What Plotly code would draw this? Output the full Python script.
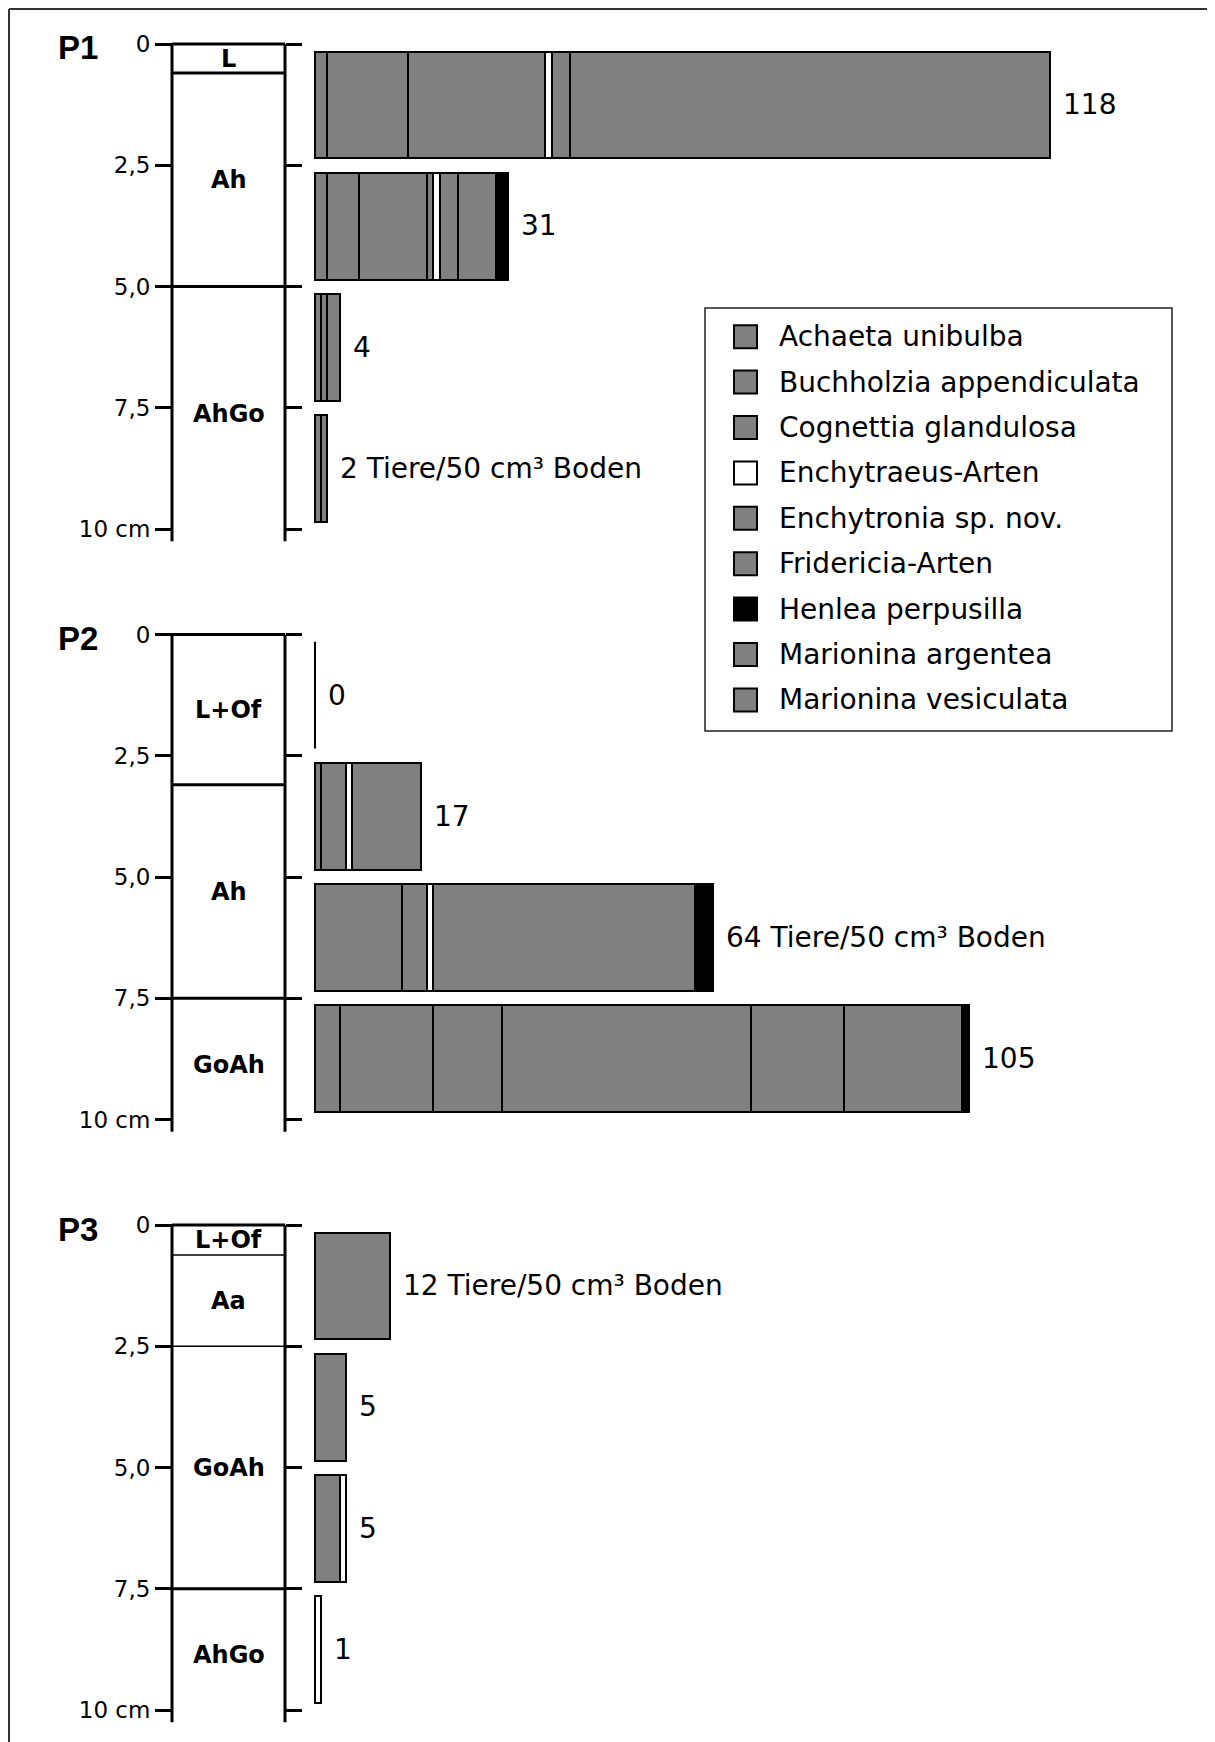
import plotly.graph_objects as go

# ---------------- data ----------------
species = ["Achaeta unibulba", "Buchholzia appendiculata", "Cognettia glandulosa",
           "Enchytraeus-Arten", "Enchytronia sp. nov.", "Fridericia-Arten",
           "Henlea perpusilla", "Marionina argentea", "Marionina vesiculata"]
species_colors = ["#808080", "#808080", "#808080", "#ffffff", "#808080",
                  "#808080", "#000000", "#808080", "#808080"]
# order in which the segments are stacked inside a bar (left to right)
stack_order = ["Achaeta unibulba", "Buchholzia appendiculata", "Cognettia glandulosa",
               "Enchytronia sp. nov.", "Enchytraeus-Arten", "Fridericia-Arten",
               "Marionina argentea", "Marionina vesiculata", "Henlea perpusilla"]

profiles = ["P1", "P2", "P3"]
layer_depth = [1.25, 3.75, 6.25, 8.75]          # cm, centre of each 2.5 cm sample

# animals per 50 cm3 soil, per species, for the 4 layers (0-2.5, 2.5-5, 5-7.5, 7.5-10 cm)
p1_counts = {
    "Achaeta unibulba":         [2, 2, 1, 1],
    "Buchholzia appendiculata": [13, 5, 1, 1],
    "Cognettia glandulosa":     [22, 11, 2, 0],
    "Enchytronia sp. nov.":     [0, 1, 0, 0],
    "Enchytraeus-Arten":        [1, 1, 0, 0],
    "Fridericia-Arten":         [3, 3, 0, 0],
    "Marionina argentea":       [77, 6, 0, 0],
    "Marionina vesiculata":     [0, 0, 0, 0],
    "Henlea perpusilla":        [0, 2, 0, 0],
}
p2_counts = {
    "Achaeta unibulba":         [0, 1, 14, 4],
    "Buchholzia appendiculata": [0, 4, 4, 15],
    "Cognettia glandulosa":     [0, 0, 0, 11],
    "Enchytronia sp. nov.":     [0, 0, 0, 40],
    "Enchytraeus-Arten":        [0, 1, 1, 0],
    "Fridericia-Arten":         [0, 11, 42, 15],
    "Marionina argentea":       [0, 0, 0, 19],
    "Marionina vesiculata":     [0, 0, 0, 0],
    "Henlea perpusilla":        [0, 0, 3, 1],
}
p3_counts = {
    "Achaeta unibulba":         [0, 0, 0, 0],
    "Buchholzia appendiculata": [0, 0, 0, 0],
    "Cognettia glandulosa":     [12, 5, 4, 0],
    "Enchytronia sp. nov.":     [0, 0, 0, 0],
    "Enchytraeus-Arten":        [0, 0, 1, 1],
    "Fridericia-Arten":         [0, 0, 0, 0],
    "Marionina argentea":       [0, 0, 0, 0],
    "Marionina vesiculata":     [0, 0, 0, 0],
    "Henlea perpusilla":        [0, 0, 0, 0],
}
counts = [p1_counts, p2_counts, p3_counts]
unit_layer = [3, 2, 0]          # layer whose total carries the unit text
unit_text = " Tiere/50 cm³ Boden"

# soil horizons
horizon_names = [["L", "Ah", "AhGo"],
                 ["L+Of", "Ah", "GoAh"],
                 ["L+Of", "Aa", "GoAh", "AhGo"]]
horizon_bounds = [[0, 0.6, 5.0, 10.25],
                  [0, 3.1, 7.5, 10.25],
                  [0, 0.62, 2.5, 7.5, 10.25]]
boundary_width = [[3, 3], [3, 3], [1.5, 1.5, 3]]

tick_vals = [0, 2.5, 5, 7.5, 10]
tick_text = ["0", "2,5", "5,0", "7,5", "10 cm"]

# ---------------- geometry (page pixels) ----------------
OFF = 8                      # default body margin of the page
PAGE_W, PAGE_H = 1215, 1742
W, H = PAGE_W - OFF, PAGE_H - OFF
X0_PX = 315.0        # page pixel of 0 animals
PPA = 6.225          # pixels per animal
Z_PX = [44.0, 634.5, 1225.0]   # page pixel of depth 0 for each profile
PPC = 48.5           # pixels per cm
Y_LO, Y_HI = -0.4, 10.6
BAR_W = 2.2
COL_L, COL_R = 172.0, 285.0


def px2x(px):
    return (px - X0_PX) / PPA


def pxx(px):      # page x pixel -> paper fraction
    return (px - OFF) / W


def pxy(py):      # page y pixel -> paper fraction
    return 1 - (py - OFF) / H


x_range = [px2x(OFF), px2x(PAGE_W)]

fig = go.Figure()
shapes = []
annotations = []
layout_axes = {}

for i, prof in enumerate(profiles):
    n = i + 1
    xa = "x" if n == 1 else f"x{n}"
    ya = "y" if n == 1 else f"y{n}"
    ya_r = f"y{n + 3}"
    cnt = counts[i]

    for sp in stack_order:
        col = species_colors[species.index(sp)]
        vals = [v if v > 0 else None for v in cnt[sp]]
        fig.add_trace(go.Bar(
            orientation="h", y=layer_depth, x=vals, width=BAR_W,
            marker=dict(color=col, line=dict(color="#000000", width=2)),
            xaxis=xa, yaxis=ya, showlegend=False, name=sp, hoverinfo="x+name"))

    totals = [sum(cnt[sp][k] for sp in species) for k in range(len(layer_depth))]
    for k, (d, t) in enumerate(zip(layer_depth, totals)):
        if t == 0:
            fig.add_trace(go.Scatter(
                x=[0, 0], y=[d - BAR_W / 2, d + BAR_W / 2], mode="lines",
                line=dict(color="#000000", width=2), xaxis=xa, yaxis=ya,
                showlegend=False, hoverinfo="skip"))
        txt = f"{t}{unit_text}" if k == unit_layer[i] else f"{t}"
        annotations.append(dict(
            x=t, y=d, xref=xa, yref=ya, text=txt, showarrow=False,
            xanchor="left", yanchor="middle", xshift=11,
            font=dict(family="DejaVu Sans", size=28, color="#000000")))

    # dummy trace so that the right tick axis is drawn
    fig.add_trace(go.Scatter(x=[0], y=[0], mode="markers", marker=dict(opacity=0),
                             xaxis=xa, yaxis=ya_r, showlegend=False, hoverinfo="skip"))

    z = Z_PX[i]
    top_px = z + Y_LO * PPC
    bot_px = z + Y_HI * PPC
    dom = [pxy(bot_px), pxy(top_px)]

    xkey = "xaxis" if n == 1 else f"xaxis{n}"
    ykey = "yaxis" if n == 1 else f"yaxis{n}"
    layout_axes[xkey] = dict(domain=[0, 1], range=x_range, visible=False,
                             anchor=ya, fixedrange=True)
    layout_axes[ykey] = dict(
        domain=dom, range=[Y_HI, Y_LO], anchor="free", position=pxx(COL_L),
        side="left", showgrid=False, zeroline=False, showline=False,
        ticks="outside", ticklen=17, tickwidth=3, tickcolor="#000000",
        tickvals=tick_vals, ticktext=tick_text,
        tickfont=dict(family="DejaVu Sans", size=23, color="#000000"))
    layout_axes[f"yaxis{n + 3}"] = dict(
        overlaying=ya, range=[Y_HI, Y_LO], anchor="free", position=pxx(COL_R),
        side="right", showgrid=False, zeroline=False, showline=False,
        ticks="outside", ticklen=16, tickwidth=3, tickcolor="#000000",
        tickvals=tick_vals, showticklabels=False)

    # soil column
    bounds = horizon_bounds[i]
    xl, xr = px2x(COL_L), px2x(COL_R)
    for xx in (xl, xr):
        shapes.append(dict(type="line", xref=xa, yref=ya, x0=xx, x1=xx,
                           y0=bounds[0], y1=bounds[-1],
                           line=dict(color="#000000", width=3)))
    shapes.append(dict(type="line", xref=xa, yref=ya, x0=xl, x1=xr,
                       y0=bounds[0], y1=bounds[0], line=dict(color="#000000", width=3)))
    for b, lw in zip(bounds[1:-1], boundary_width[i]):
        shapes.append(dict(type="line", xref=xa, yref=ya, x0=xl, x1=xr, y0=b, y1=b,
                           line=dict(color="#000000", width=lw)))
    for name, b0, b1 in zip(horizon_names[i], bounds[:-1], bounds[1:]):
        annotations.append(dict(
            x=(xl + xr) / 2, y=(b0 + b1) / 2, xref=xa, yref=ya, text=name,
            showarrow=False, xanchor="center", yanchor="middle",
            font=dict(family="DejaVu Sans", size=24, color="#000000", weight="bold")))

    annotations.append(dict(
        x=pxx(56), y=pxy(z + 4), xref="paper", yref="paper", text=prof,
        showarrow=False, xanchor="left", yanchor="middle",
        font=dict(family="Liberation Sans", size=33, color="#000000", weight="bold")))

# ---------------- legend box ----------------
LB = [705.0, 308.0, 1172.0, 731.0]  # page px: left, top, right, bottom
ROW0, ROW_STEP = 28.7, 45.4
leg_y = [ROW0 + ROW_STEP * k for k in range(len(species))]
fig.add_trace(go.Scatter(
    x=[40.5] * len(species), y=leg_y, mode="markers",
    marker=dict(symbol="square", size=23, color=species_colors,
                line=dict(color="#000000", width=2)),
    xaxis="x4", yaxis="y7", showlegend=False, hoverinfo="skip"))
for sp, yy in zip(species, leg_y):
    annotations.append(dict(
        x=72, y=yy, xref="x4", yref="y7", text=sp, showarrow=False,
        xanchor="left", yanchor="middle",
        font=dict(family="DejaVu Sans", size=28, color="#000000")))
layout_axes["xaxis4"] = dict(domain=[pxx(LB[0]), pxx(LB[2])], range=[0, LB[2] - LB[0]],
                             visible=False, anchor="y7", fixedrange=True)
layout_axes["yaxis7"] = dict(domain=[pxy(LB[3]), pxy(LB[1])],
                             range=[LB[3] - LB[1], 0], visible=False, anchor="x4",
                             fixedrange=True)
shapes.append(dict(type="rect", xref="paper", yref="paper",
                   x0=pxx(LB[0]), x1=pxx(LB[2]), y0=pxy(LB[3]), y1=pxy(LB[1]),
                   line=dict(color="#222222", width=1.5), fillcolor="rgba(0,0,0,0)"))

# outer frame (top and left edges)
shapes.append(dict(type="line", xref="paper", yref="paper", x0=pxx(9), x1=1,
                   y0=pxy(9), y1=pxy(9), line=dict(color="#333333", width=2)))
shapes.append(dict(type="line", xref="paper", yref="paper", x0=pxx(9), x1=pxx(9),
                   y0=0, y1=pxy(9), line=dict(color="#333333", width=2)))

fig.update_layout(
    width=W, height=H, autosize=False,
    margin=dict(l=0, r=0, t=0, b=0),
    paper_bgcolor="#ffffff", plot_bgcolor="rgba(0,0,0,0)",
    barmode="stack", bargap=0, showlegend=False,
    shapes=shapes, annotations=annotations,
    **layout_axes)

fig.write_html("out.html")
